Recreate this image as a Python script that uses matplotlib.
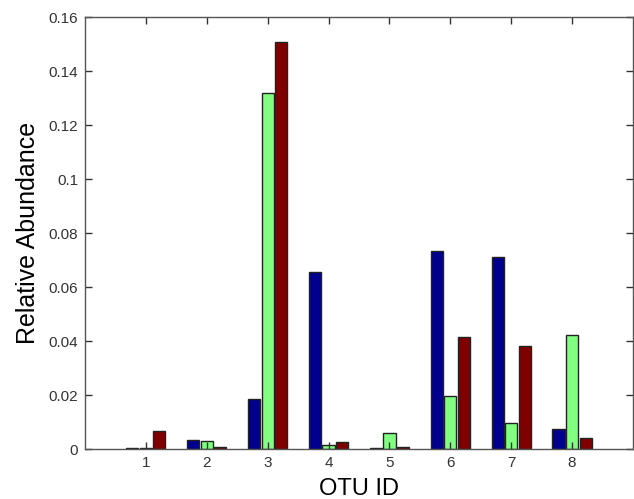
import numpy as np
import matplotlib
matplotlib.use('Agg')
import matplotlib.pyplot as plt

plt.rcParams['font.family'] = ['Liberation Sans', 'DejaVu Sans']

otu_ids = [1, 2, 3, 4, 5, 6, 7, 8]
series_a = [0.0002, 0.0033, 0.0185, 0.0655, 0.0003, 0.0733, 0.0710, 0.0074]
series_b = [0.0005, 0.0030, 0.1320, 0.0015, 0.0059, 0.0196, 0.0097, 0.0422]
series_c = [0.0067, 0.0007, 0.1507, 0.0026, 0.0008, 0.0415, 0.0380, 0.0039]
colors = ['#00008F', '#80FF80', '#800000']

fig = plt.figure(figsize=(6.34, 4.99), dpi=100)
ax = fig.add_axes([0.134, 0.1002, 0.8644, 0.8657])

x = np.array(otu_ids)
w = 0.2
off = 0.222
for i, (vals, c) in enumerate(zip([series_a, series_b, series_c], colors)):
    ax.bar(x + (i - 1) * off, vals, width=w, color=c, edgecolor='#222222', linewidth=1.0)

ax.set_xlim(0, 9)
ax.set_ylim(0, 0.16)
ax.set_xticks(otu_ids)
ax.set_yticks(np.arange(0, 0.161, 0.02))
ax.set_yticklabels(['0', '0.02', '0.04', '0.06', '0.08', '0.1', '0.12', '0.14', '0.16'])
ax.tick_params(direction='in', top=True, right=True, labelsize=11, colors='#333333',
               length=5, width=1, pad=5)
for s in ax.spines.values():
    s.set_color('#555555')
    s.set_linewidth(1)

ax.set_xlabel('OTU ID', fontsize=17, labelpad=6)
ax.set_ylabel('Relative Abundance', fontsize=18, labelpad=6)

fig.savefig('out.png', dpi=100)
